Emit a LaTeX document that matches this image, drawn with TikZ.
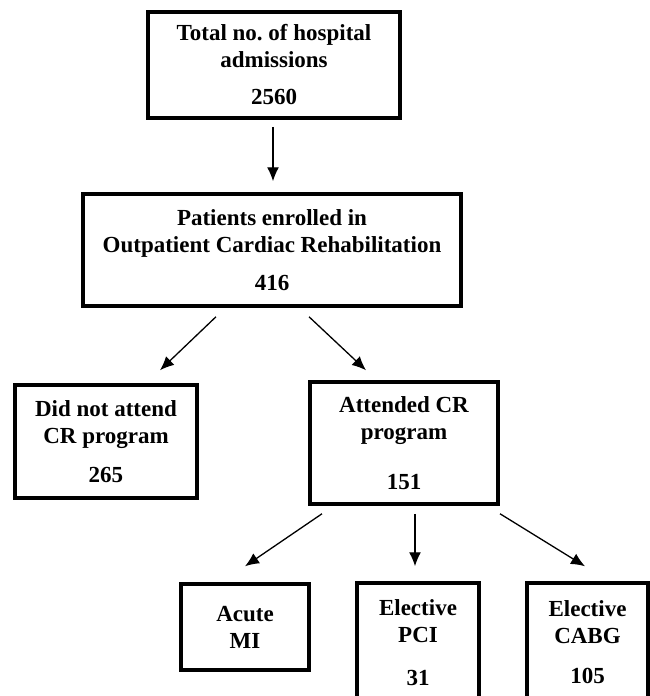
\documentclass[tikz,border=0pt]{standalone}
\usepackage{fontspec}
\setmainfont{Liberation Serif}
\usepackage{tikz}
\usetikzlibrary{arrows.meta,calc}
\frenchspacing

\begin{document}
\begin{tikzpicture}[x=1pt,y=-1pt,
      box/.style={draw,line width=3.5pt,align=center,inner sep=0pt,font=\fontsize{23}{27}\selectfont\bfseries},
      arr/.style={line width=1.3pt,-{Latex[length=14pt,width=12pt]}}
    ]
      \clip (0,0) rectangle (650,696);
      % Top level
      \node[box,minimum width=252pt,minimum height=106pt] (tot) at (274,65) {Total no. of hospital\\admissions\\[10pt]2560};
      \node[box,minimum width=378pt,minimum height=112pt] (enr) at (272,250) {Patients enrolled in\\Outpatient Cardiac Rehabilitation\\[11pt]416};
      % Second level
      \node[box,minimum width=182pt,minimum height=113pt] (dna) at (106,441.5) {Did not attend\\CR program\\[12pt]265};
      \node[box,minimum width=188pt,minimum height=122pt] (att) at (404,443) {Attended CR\\program\\[23pt]151};
      % Third level (bottom boxes run past the page edge)
      \node[box,minimum width=128pt,minimum height=86pt] (ami) at (245,627) {Acute\\MI};
      \node[box,minimum width=122pt,minimum height=120pt] (pci) at (418,643) {Elective\\PCI\\[16pt]31};
      \node[box,minimum width=121pt,minimum height=118pt] (cabg) at (587.5,642) {Elective\\CABG\\[13pt]105};
      % Arrows
      \draw[arr] ($(tot.south)+(-1,7)$) -- ($(enr.north)+(1,-11)$);
      \draw[arr] ($(enr.south)+(-56,9)$) -- ($(dna.north)+(54,-13)$);
      \draw[arr] ($(enr.south)+(37,9)$) -- ($(att.north)+(-38,-10)$);
      \draw[arr] ($(att.south)+(-82,8)$) -- ($(ami.north)+(0,-16)$);
      \draw[arr] ($(att.south)+(11,8)$) -- ($(pci.north)+(-3,-15)$);
      \draw[arr] ($(att.south)+(96,8)$) -- ($(cabg.north)+(-2.5,-15)$);
    \end{tikzpicture}
\end{document}
